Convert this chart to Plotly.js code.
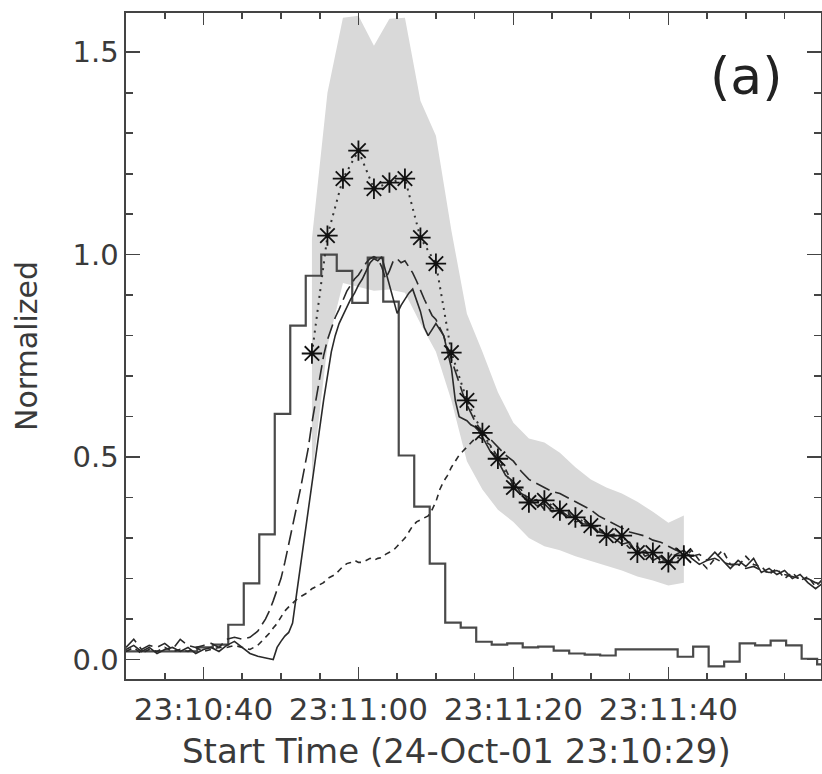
<!DOCTYPE html>
<html>
<head>
<meta charset="utf-8">
<script src="https://cdn.plot.ly/plotly-3.0.1.min.js"></script>
<style>html,body{margin:0;padding:0;background:#fff;}</style>
</head>
<body>
<div id="chart" style="width:822px;height:774px;"></div>
<script>
// Time in seconds after 23:10:00 (24-Oct-01)
const tickTimes = [40, 60, 80, 100];
const tickLabels = ['23:10:40', '23:11:00', '23:11:20', '23:11:40'];
const xTitle = 'Start Time (24-Oct-01 23:10:29)';

// Histogram (2 s bins): left bin edges and values
const histEdges = [29.2,31.2,33.2,35.2,37.2,39.2,41.2,43.2,45.2,47.2,49.2,51.2,53.2,55.2,57.2,59.2,61.2,63.2,65.2,67.2,69.2,71.2,73.2,75.2,77.2,79.2,81.2,83.2,85.2,87.2,89.2,91.2,93.2,95.2,97.2,99.2,101.2,103.2,105.2,107.2,109.2,111.2,113.2,115.2,117.2,119.2,121.2];
const histVals = [0.02,0.02,0.02,0.02,0.02,0.03,0.037,0.086,0.188,0.309,0.607,0.825,0.948,1.0,0.96,0.881,0.993,0.884,0.504,0.378,0.237,0.091,0.079,0.044,0.037,0.040,0.030,0.032,0.022,0.015,0.012,0.010,0.025,0.025,0.025,0.025,0.007,0.032,-0.017,-0.005,0.040,0.035,0.047,0.035,0.002,-0.012,-0.012];

// Asterisk series (2 s cadence) with its uncertainty band
const starT = [54,56,58,60,62,64,66,68,70,72,74,76,78,80,82,84,86,88,90,92,94,96,98,100,102];
const starVals = [0.756,1.047,1.188,1.257,1.163,1.178,1.188,1.042,0.978,0.758,0.640,0.560,0.496,0.425,0.388,0.393,0.368,0.351,0.331,0.306,0.306,0.264,0.264,0.240,0.257];
const bandHi = [1.04,1.40,1.585,1.59,1.516,1.583,1.585,1.38,1.294,1.059,0.854,0.76,0.66,0.585,0.546,0.536,0.511,0.475,0.445,0.425,0.41,0.39,0.365,0.338,0.356];
const bandLo = [0.45,0.775,0.93,0.92,0.911,0.914,0.906,0.83,0.76,0.64,0.49,0.42,0.37,0.34,0.30,0.28,0.27,0.255,0.243,0.232,0.22,0.205,0.195,0.183,0.19];

// Light curves sampled in time
const curveT = [30,31,32,33,34,35,36,37,38,39,40,41,42,43,44,45,46,47,48,
  48.5,49,49.5,50,50.5,51,51.5,52,52.5,53,53.5,54,54.5,55,55.5,56,56.5,57,57.5,58,58.5,59,59.5,60,60.5,61,61.5,62,62.5,63,63.5,64,64.5,65,65.5,66,66.5,67,67.5,68,68.5,69,69.5,70,70.5,71,71.5,72,72.5,73,73.5,74,74.5,75,75.5,76,
  77,78,79,80,81,82,83,84,85,86,87,88,89,90,91,92,93,94,95,96,97,98,99,100,101,102,103,104,105,106,107,108,109,110,111,112,113,114,115,116,117,118,119,120];
const solidVals = [0.025,0.035,0.02,0.03,0.015,0.025,0.03,0.02,0.03,0.015,0.025,0.03,0.02,0.035,0.045,0.03,0.015,0.008,0.005,
  0.002,0.0,0.03,0.045,0.058,0.067,0.09,0.16,0.23,0.30,0.36,0.44,0.51,0.57,0.64,0.70,0.76,0.80,0.83,0.85,0.87,0.89,0.905,0.925,0.94,0.96,0.98,0.99,0.985,0.995,0.96,0.92,0.89,0.855,0.875,0.89,0.905,0.915,0.89,0.86,0.82,0.80,0.815,0.83,0.815,0.80,0.76,0.72,0.64,0.60,0.595,0.59,0.58,0.575,0.565,0.55,
  0.515,0.49,0.455,0.44,0.41,0.40,0.38,0.385,0.365,0.37,0.355,0.35,0.335,0.335,0.315,0.31,0.30,0.285,0.29,0.26,0.27,0.245,0.255,0.235,0.26,0.27,0.25,0.235,0.245,0.265,0.245,0.225,0.245,0.23,0.25,0.215,0.225,0.21,0.22,0.2,0.21,0.19,0.175,0.19];
const longDashVals = [0.03,0.05,0.025,0.035,0.03,0.04,0.025,0.05,0.035,0.03,0.035,0.04,0.03,0.05,0.055,0.05,0.055,0.07,0.1,
  0.12,0.145,0.17,0.2,0.24,0.285,0.33,0.37,0.42,0.47,0.52,0.585,0.64,0.7,0.75,0.79,0.82,0.845,0.865,0.89,0.91,0.925,0.94,0.95,0.965,0.98,0.99,0.995,0.99,0.97,0.94,0.96,0.985,0.99,0.98,0.985,0.97,0.955,0.935,0.91,0.89,0.87,0.85,0.84,0.82,0.80,0.77,0.74,0.71,0.68,0.655,0.63,0.61,0.59,0.575,0.56,
  0.545,0.525,0.505,0.49,0.465,0.445,0.435,0.425,0.415,0.41,0.40,0.39,0.38,0.37,0.355,0.345,0.335,0.325,0.315,0.31,0.305,0.295,0.29,0.28,0.27,0.265,0.255,0.26,0.245,0.25,0.24,0.235,0.235,0.225,0.23,0.22,0.215,0.22,0.21,0.205,0.2,0.2,0.19,0.185];
const shortDashVals = [0.02,0.03,0.015,0.025,0.02,0.03,0.02,0.025,0.02,0.03,0.02,0.025,0.03,0.03,0.035,0.03,0.025,0.035,0.055,
  0.065,0.078,0.089,0.105,0.12,0.13,0.14,0.148,0.155,0.16,0.166,0.175,0.18,0.185,0.19,0.2,0.205,0.21,0.22,0.23,0.237,0.24,0.245,0.24,0.24,0.244,0.25,0.245,0.25,0.252,0.26,0.265,0.27,0.28,0.29,0.3,0.315,0.33,0.34,0.345,0.35,0.355,0.37,0.39,0.42,0.44,0.455,0.475,0.49,0.505,0.515,0.525,0.535,0.545,0.55,0.545,
  0.53,0.50,0.47,0.43,0.42,0.39,0.395,0.37,0.375,0.36,0.365,0.34,0.345,0.325,0.33,0.305,0.31,0.295,0.275,0.28,0.255,0.265,0.24,0.25,0.275,0.25,0.27,0.245,0.225,0.25,0.27,0.235,0.23,0.255,0.235,0.23,0.21,0.225,0.2,0.215,0.195,0.205,0.18,0.2];

const yTicks = [0, 0.5, 1.0, 1.5];
const yTickLabels = ['0.0', '0.5', '1.0', '1.5'];

const bandX = starT.concat(starT.slice().reverse());
const bandY = bandHi.concat(bandLo.slice().reverse());

const ink = '#2a2a2a';
const textInk = '#3a3a3a';

const traces = [
  {x: bandX, y: bandY, type: 'scatter', mode: 'lines', fill: 'toself',
   fillcolor: '#d9d9d9', line: {width: 0, color: '#d9d9d9'}, hoverinfo: 'skip'},
  {x: histEdges, y: histVals, type: 'scatter', mode: 'lines',
   line: {shape: 'hv', color: '#4a4a4a', width: 2.2}},
  {x: curveT, y: shortDashVals, type: 'scatter', mode: 'lines',
   line: {color: ink, width: 1.6, dash: '6px,5px'}},
  {x: curveT, y: longDashVals, type: 'scatter', mode: 'lines',
   line: {color: ink, width: 1.6, dash: '15px,6px'}},
  {x: curveT, y: solidVals, type: 'scatter', mode: 'lines',
   line: {color: ink, width: 1.6}},
  {x: starT, y: starVals, type: 'scatter', mode: 'lines+markers',
   line: {color: '#333', width: 2, dash: '2px,5px'},
   marker: {symbol: 'asterisk-open', size: 17, color: '#111', line: {color: '#111', width: 1.8}}}
];

const axisCommon = {
  showline: true, linecolor: '#444', linewidth: 1.6, mirror: 'ticks',
  ticks: 'inside', tickcolor: '#444', tickwidth: 1.6,
  showgrid: false, zeroline: false
};

const layout = {
  width: 822, height: 774,
  margin: {l: 126, r: 1, t: 13, b: 95, pad: 0},
  paper_bgcolor: '#ffffff', plot_bgcolor: '#ffffff',
  showlegend: false,
  font: {family: 'DejaVu Sans', color: textInk},
  xaxis: Object.assign({}, axisCommon, {
    range: [30, 119.7], tickmode: 'array', tickvals: tickTimes, ticktext: tickLabels,
    ticklen: 12, tickfont: {size: 31, color: textInk}, ticklabelstandoff: 2,
    minor: {tickmode: 'linear', tick0: 0, dtick: 5, ticks: 'inside', ticklen: 6, tickcolor: '#444', tickwidth: 1.6, showgrid: false}
  }),
  yaxis: Object.assign({}, axisCommon, {
    range: [-0.048, 1.597], tickmode: 'array', tickvals: yTicks, ticktext: yTickLabels,
    ticklen: 14, tickfont: {size: 29, color: textInk},
    minor: {tickmode: 'linear', tick0: 0, dtick: 0.1, ticks: 'inside', ticklen: 7, tickcolor: '#444', tickwidth: 1.6, showgrid: false},
    title: {text: 'Normalized', font: {size: 30, color: textInk}, standoff: 26}
  }),
  annotations: [
    {text: '(a)', xref: 'paper', yref: 'paper', x: 0.892, y: 0.905,
     xanchor: 'center', yanchor: 'middle', showarrow: false,
     font: {size: 52, color: '#222', family: 'DejaVu Sans'}},
    {text: xTitle, xref: 'paper', yref: 'paper', x: 0.475, y: -0.108,
     xanchor: 'center', yanchor: 'middle', showarrow: false,
     font: {size: 34, color: textInk, family: 'DejaVu Sans'}}
  ]
};

Plotly.newPlot('chart', traces, layout, {displayModeBar: false, staticPlot: true});
</script>
</body>
</html>
